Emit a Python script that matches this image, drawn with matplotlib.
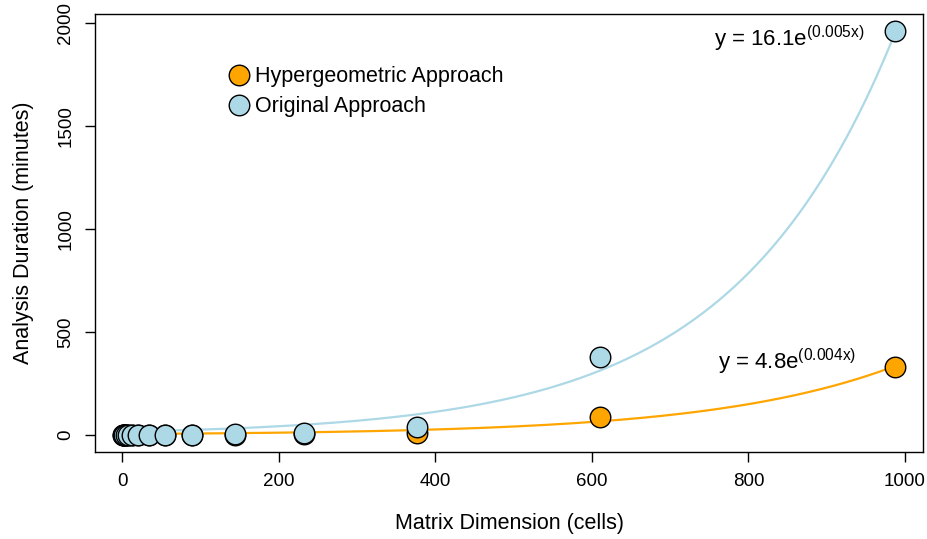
import numpy as np
import matplotlib
matplotlib.use("Agg")
import matplotlib.pyplot as plt
from matplotlib.lines import Line2D

plt.rcParams['font.family'] = ['Liberation Sans', 'DejaVu Sans']
plt.rcParams['mathtext.fontset'] = 'custom'
plt.rcParams['mathtext.rm'] = 'Liberation Sans'
plt.rcParams['mathtext.it'] = 'Liberation Sans'

# matrix sizes (cells) and run times (minutes)
dims = [1, 2, 3, 5, 8, 13, 21, 34, 55, 89, 144, 233, 377, 610, 987]
hyper_min = [0.01, 0.01, 0.02, 0.02, 0.03, 0.05, 0.08, 0.15, 0.3, 0.6, 1.5, 4, 8, 87, 330]
orig_min = [0.01, 0.01, 0.02, 0.03, 0.05, 0.1, 0.2, 0.4, 0.9, 2, 5, 12, 40, 380, 1961]

# exponential fit parameters y = a*exp(b*x)
hyper_fit = (4.8, 0.0043)
orig_fit = (16.1, 0.00486)

orange = '#FFA500'
lblue = '#ADD8E6'

fig = plt.figure(figsize=(9.27, 5.39), dpi=100)
ax = fig.add_axes([0.1025, 0.1614, 0.8932, 0.8126])

xs = np.linspace(min(dims), max(dims), 400)
ax.plot(xs, hyper_fit[0] * np.exp(hyper_fit[1] * xs), color=orange, lw=1.6, zorder=2)
ax.plot(xs, orig_fit[0] * np.exp(orig_fit[1] * xs), color=lblue, lw=1.6, zorder=2)

ax.plot(dims, hyper_min, 'o', ms=14.8, mfc=orange, mec='black', mew=1.0, ls='none', zorder=3)
ax.plot(dims, orig_min, 'o', ms=14.8, mfc=lblue, mec='black', mew=1.0, ls='none', zorder=4)

ax.annotate('y = %.1fe$^{(%.3fx)}$' % orig_fit, (dims[-1], orig_fit[0] * np.exp(orig_fit[1] * dims[-1])),
            xytext=(-22, -4), textcoords='offset points', ha='right', va='center', fontsize=16)
ax.annotate('y = %.1fe$^{(%.3fx)}$' % hyper_fit, (dims[-1], hyper_fit[0] * np.exp(hyper_fit[1] * dims[-1])),
            xytext=(-28, 3), textcoords='offset points', ha='right', va='center', fontsize=16)

handles = [Line2D([], [], marker='o', ls='none', ms=14.8, mfc=orange, mec='black', mew=1.0),
           Line2D([], [], marker='o', ls='none', ms=14.8, mfc=lblue, mec='black', mew=1.0)]
ax.legend(handles, ['Hypergeometric Approach', 'Original Approach'], frameon=False,
          loc='upper left', bbox_to_anchor=(0.137, 0.9), fontsize=15.5,
          handletextpad=-0.25, labelspacing=0.42, borderaxespad=0)

ax.set_xlim(-34.5, 1023)
ax.set_ylim(-82.5, 2044)
ax.set_xticks([0, 200, 400, 600, 800, 1000])
ax.set_yticks([0, 500, 1000, 1500, 2000])
ax.tick_params(direction='out', length=7, width=1, labelsize=13.5, pad=8)
for lab in ax.get_yticklabels():
    lab.set_rotation(90)
    lab.set_va('center')
for s in ax.spines.values():
    s.set_linewidth(1.0)

ax.set_xlabel('Matrix Dimension (cells)', fontsize=15.5, labelpad=17)
ax.set_ylabel('Analysis Duration (minutes)', fontsize=15.5, labelpad=17)

fig.savefig('out.png', dpi=100)
